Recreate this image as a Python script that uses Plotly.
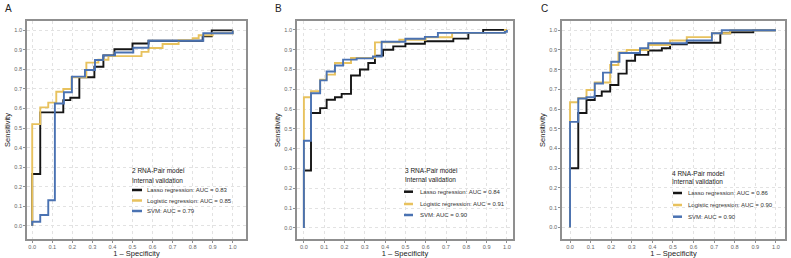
import plotly.graph_objects as go

W, H = 791, 258

# ---------------- data ----------------
models = ["Lasso regression", "Logistic regression", "SVM"]
colors = ["#151515", "#E8C25E", "#4A72B2"]

panel_letters = ["A", "B", "C"]
panel_titles = ["2 RNA-Pair model", "3 RNA-Pair model", "4 RNA-Pair model"]
legend_subtitle = "Internal validation"

auc_A = [0.83, 0.85, 0.79]
auc_B = [0.84, 0.91, 0.90]
auc_C = [0.86, 0.90, 0.90]

A_lasso_fpr = [0, 0, 0.04, 0.155, 0.19, 0.235, 0.31, 0.355, 0.41, 0.50, 0.58, 0.85, 0.895, 1.0]
A_lasso_tpr = [0, 0.265, 0.58, 0.643, 0.655, 0.76, 0.814, 0.872, 0.903, 0.933, 0.947, 0.97, 1.0, 1.0]
A_logit_fpr = [0, 0, 0.04, 0.08, 0.12, 0.155, 0.196, 0.27, 0.33, 0.38, 0.545, 0.58, 0.65, 0.73, 0.80, 0.83, 0.90, 1.0]
A_logit_tpr = [0, 0.52, 0.606, 0.63, 0.686, 0.70, 0.76, 0.835, 0.85, 0.868, 0.89, 0.91, 0.93, 0.95, 0.96, 0.975, 0.985, 1.0]
A_svm_fpr = [0, 0, 0.04, 0.08, 0.113, 0.158, 0.198, 0.263, 0.313, 0.354, 0.413, 0.504, 0.58, 0.853, 1.0]
A_svm_tpr = [0, 0.02, 0.055, 0.13, 0.626, 0.683, 0.763, 0.797, 0.848, 0.872, 0.887, 0.911, 0.947, 0.985, 1.0]

B_lasso_fpr = [0, 0, 0.035, 0.08, 0.112, 0.153, 0.186, 0.232, 0.276, 0.317, 0.35, 0.39, 0.44, 0.50, 0.596, 0.736, 0.81, 0.883, 1.0]
B_lasso_tpr = [0, 0.29, 0.58, 0.605, 0.647, 0.66, 0.677, 0.77, 0.80, 0.833, 0.87, 0.90, 0.917, 0.93, 0.943, 0.956, 0.985, 1.0, 1.0]
B_logit_fpr = [0, 0, 0.035, 0.08, 0.112, 0.153, 0.232, 0.35, 0.47, 0.60, 0.73, 0.99, 1.0]
B_logit_tpr = [0, 0.66, 0.69, 0.748, 0.774, 0.833, 0.858, 0.937, 0.95, 0.963, 0.985, 1.0, 1.0]
B_svm_fpr = [0, 0, 0.035, 0.08, 0.112, 0.153, 0.193, 0.26, 0.34, 0.383, 0.50, 0.596, 0.66, 0.99, 1.0]
B_svm_tpr = [0, 0.44, 0.68, 0.745, 0.79, 0.82, 0.85, 0.856, 0.866, 0.94, 0.955, 0.965, 0.985, 0.99, 1.0]

C_lasso_fpr = [0, 0, 0.04, 0.08, 0.12, 0.154, 0.195, 0.235, 0.275, 0.316, 0.38, 0.446, 0.486, 0.567, 0.73, 0.778, 0.89, 1.0]
C_lasso_tpr = [0, 0.30, 0.58, 0.646, 0.667, 0.689, 0.722, 0.78, 0.845, 0.875, 0.897, 0.909, 0.929, 0.937, 0.985, 0.99, 1.0, 1.0]
C_logit_fpr = [0, 0, 0.04, 0.08, 0.12, 0.195, 0.235, 0.275, 0.38, 0.486, 0.567, 0.689, 0.778, 1.0]
C_logit_tpr = [0, 0.635, 0.655, 0.697, 0.735, 0.824, 0.887, 0.90, 0.925, 0.948, 0.965, 0.985, 1.0, 1.0]
C_svm_fpr = [0, 0, 0.04, 0.08, 0.12, 0.16, 0.20, 0.24, 0.34, 0.38, 0.567, 0.689, 0.737, 1.0]
C_svm_tpr = [0, 0.535, 0.654, 0.66, 0.73, 0.785, 0.84, 0.885, 0.909, 0.934, 0.948, 0.985, 1.0, 1.0]

tick_vals = [i / 10 for i in range(11)]
tick_text = ["%.1f" % v for v in tick_vals]

# ---------------- layout geometry (pixels) ----------------
frames = [(27, 246, 21, 239), (297, 513, 21, 239), (562, 785, 21, 239)]
xranges = [(-0.026, 1.066), (-0.034, 1.030), (-0.039, 1.044)]
yranges = [(-0.068, 1.048), (-0.056, 1.045), (-0.059, 1.047)]
legends = [
    (130, 170.7, 180.0, 132, 142, 145, (190.0, 200.5, 211.0)),
    (403, 170.7, 179.5, 404, 413, 418, (191.7, 204.0, 215.0)),
    (670, 173.0, 181.5, 673, 682, 686, (193.0, 205.0, 216.7)),
]
letter_pos = [(3, 9), (273, 9), (539, 9)]


def px(x):
    return x / W


def py(y):
    return 1 - y / H


curves = [
    [(A_lasso_fpr, A_lasso_tpr), (A_logit_fpr, A_logit_tpr), (A_svm_fpr, A_svm_tpr)],
    [(B_lasso_fpr, B_lasso_tpr), (B_logit_fpr, B_logit_tpr), (B_svm_fpr, B_svm_tpr)],
    [(C_lasso_fpr, C_lasso_tpr), (C_logit_fpr, C_logit_tpr), (C_svm_fpr, C_svm_tpr)],
]
aucs = [auc_A, auc_B, auc_C]

FONT = "Liberation Sans, Arial, sans-serif"
fig = go.Figure()
layout = dict(
    width=W, height=H, margin=dict(l=0, r=0, t=0, b=0),
    paper_bgcolor="white", plot_bgcolor="white", showlegend=False,
    font=dict(family=FONT, color="#222"),
)
annotations = []
shapes = []

for p in range(3):
    sx = "" if p == 0 else str(p + 1)
    xa, ya = "x" + sx, "y" + sx
    L, R, T, B = frames[p]
    for m in range(3):
        fx, ty = curves[p][m]
        fig.add_trace(go.Scatter(
            x=fx, y=ty, mode="lines", line=dict(color=colors[m], width=1.9, shape="hv"),
            name=f"{models[m]}: AUC = {aucs[p][m]:.2f}", xaxis=xa, yaxis=ya,
        ))
    axis_common = dict(
        showline=True, mirror=True, linecolor="#8f8f8f", linewidth=1.5,
        showgrid=True, gridcolor="#e2e2e2", griddash="dot", gridwidth=1,
        zeroline=False, ticks="outside", ticklen=2, tickcolor="#8f8f8f", tickwidth=1,
        tickvals=tick_vals, ticktext=tick_text,
        tickfont=dict(size=5.6, color="#666", family=FONT),
        automargin=False,
    )
    layout["xaxis" + sx] = dict(
        axis_common, domain=[px(L), px(R)], range=list(xranges[p]), anchor=ya,
        title=dict(text="1 \u2013 Specificity", font=dict(size=7.5, color="#222"), standoff=2),
    )
    layout["yaxis" + sx] = dict(
        axis_common, domain=[py(B), py(T)], range=list(yranges[p]), anchor=xa,
        title=dict(text="Sensitivity", font=dict(size=7.5, color="#222"), standoff=3),
    )
    lx, ly = letter_pos[p]
    annotations.append(dict(xref="paper", yref="paper", x=px(lx), y=py(ly), text=panel_letters[p],
                            showarrow=False, xanchor="left", yanchor="middle",
                            font=dict(size=10, color="#222")))
    tx, t1, t2, k0, k1, txt, eys = legends[p]
    for yy, s in ((t1, panel_titles[p]), (t2, legend_subtitle)):
        annotations.append(dict(xref="paper", yref="paper", x=px(tx), y=py(yy), text=s,
                                showarrow=False, xanchor="left", yanchor="middle",
                                font=dict(size=6.5, color="#222")))
    for m in range(3):
        shapes.append(dict(type="line", xref="paper", yref="paper",
                           x0=px(k0), x1=px(k1), y0=py(eys[m]), y1=py(eys[m]),
                           line=dict(color=colors[m], width=2.5)))
        annotations.append(dict(xref="paper", yref="paper", x=px(txt), y=py(eys[m]),
                                text=f"{models[m]}: AUC = {aucs[p][m]:.2f}",
                                showarrow=False, xanchor="left", yanchor="middle",
                                font=dict(size=6, color="#333")))

layout["annotations"] = annotations
layout["shapes"] = shapes
fig.update_layout(**layout)
fig.write_html("out.html", config={"displayModeBar": False},
               post_script="document.body.style.margin='0';document.body.style.overflow='hidden';")
